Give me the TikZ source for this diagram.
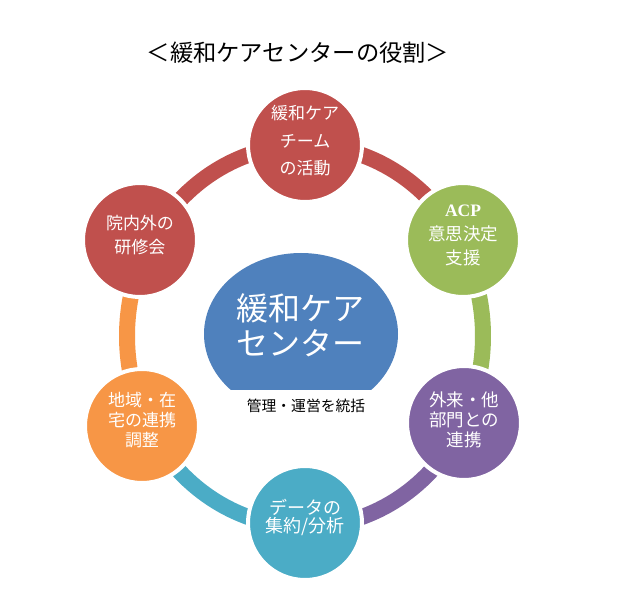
\documentclass[tikz,border=0pt]{standalone}
\usepackage{fontspec}
\newfontfamily\jp{Noto Sans CJK JP}
\newfontfamily\acpfont{Liberation Serif}
\definecolor{cred}{HTML}{C0504D}
\definecolor{cgreen}{HTML}{9BBB59}
\definecolor{cpurple}{HTML}{8064A2}
\definecolor{cteal}{HTML}{4BACC6}
\definecolor{corange}{HTML}{F79646}
\definecolor{cblue}{HTML}{4F81BD}
\tikzset{
  cyc/.style={circle, minimum size=114pt, inner sep=0pt, draw=white, line width=4pt},
  cyctext/.style={text=white, align=center, inner sep=0pt},
  ringarc/.style={line width=16pt},
}
\begin{document}
\begin{tikzpicture}[x=1pt,y=1pt]
\useasboundingbox[fill=white] (0,0) rectangle (641,606);
\coordinate (rc) at (305,270);
% title
\node[font=\jp\fontsize{23.3pt}{24pt}\selectfont] (title) at (298,553) {＜緩和ケアセンターの役割＞};
% arc end points on the ring
\path (rc) ++(90:178 and 191) coordinate (p1);
\path (rc) ++(30:178 and 191) coordinate (p2);
\path (rc) ++(-30:178 and 191) coordinate (p3);
\path (rc) ++(-90:178 and 191) coordinate (p4);
\path (rc) ++(-150:178 and 191) coordinate (p5);
\path (rc) ++(150:178 and 191) coordinate (p6);
% ring arcs
\draw[ringarc, cred] (p1) arc[start angle=90, end angle=30, x radius=178, y radius=191];
\draw[ringarc, cgreen] (p2) arc[start angle=30, end angle=-30, x radius=178, y radius=191];
\draw[ringarc, cpurple] (p3) arc[start angle=-30, end angle=-90, x radius=178, y radius=191];
\draw[ringarc, cteal] (p4) arc[start angle=-90, end angle=-150, x radius=178, y radius=191];
\draw[ringarc, corange] (p5) arc[start angle=210, end angle=150, x radius=178, y radius=191];
\draw[ringarc, cred] (p6) arc[start angle=150, end angle=90, x radius=178, y radius=191];
% cycle circles
\node[cyc, fill=cred] (n1) at (305,461) {};
\node[cyc, fill=cgreen] (n2) at (463,366) {};
\node[cyc, fill=cpurple] (n3) at (464,183) {};
\node[cyc, fill=cteal] (n4) at (305,83) {};
\node[cyc, fill=corange] (n5) at (142,180) {};
\node[cyc, fill=cred] (n6) at (140,366) {};
% texts
\node[cyctext, font=\jp\fontsize{17pt}{27.5pt}\selectfont] (t1) at ([yshift=4]n1.center) {緩和ケア\\チーム\\の活動};
\node[cyctext, font=\jp\fontsize{17.5pt}{24pt}\selectfont] (t2) at ([yshift=5]n2.center) {{\acpfont\bfseries ACP}\\意思決定\\支援};
\node[cyctext, font=\jp\fontsize{17.5pt}{20pt}\selectfont] (t3) at ([yshift=3]n3.center) {外来・他\\部門との\\連携};
\node[cyctext, font=\jp\fontsize{18pt}{18pt}\selectfont] (t4) at ([yshift=6]n4.center) {データの\\集約/分析};
\node[cyctext, font=\jp\fontsize{17pt}{20pt}\selectfont] (t5) at ([yshift=6]n5.center) {地域・在\\宅の連携\\調整};
\node[cyctext, font=\jp\fontsize{17pt}{24pt}\selectfont] (t6) at ([yshift=5]n6.center) {院内外の\\研修会};
% center
\begin{scope}
\clip (0,216) rectangle (641,606);
\fill[cblue] (301,272) ellipse[x radius=97, y radius=81];
\end{scope}
\node[text=white, align=center, font=\jp\fontsize{32pt}{35pt}\selectfont] (center) at (300,281) {緩和ケア\\センター};
\node[font=\jp\fontsize{14.8pt}{16pt}\selectfont] (sub) at (306,200) {管理・運営を統括};
\end{tikzpicture}
\end{document}
